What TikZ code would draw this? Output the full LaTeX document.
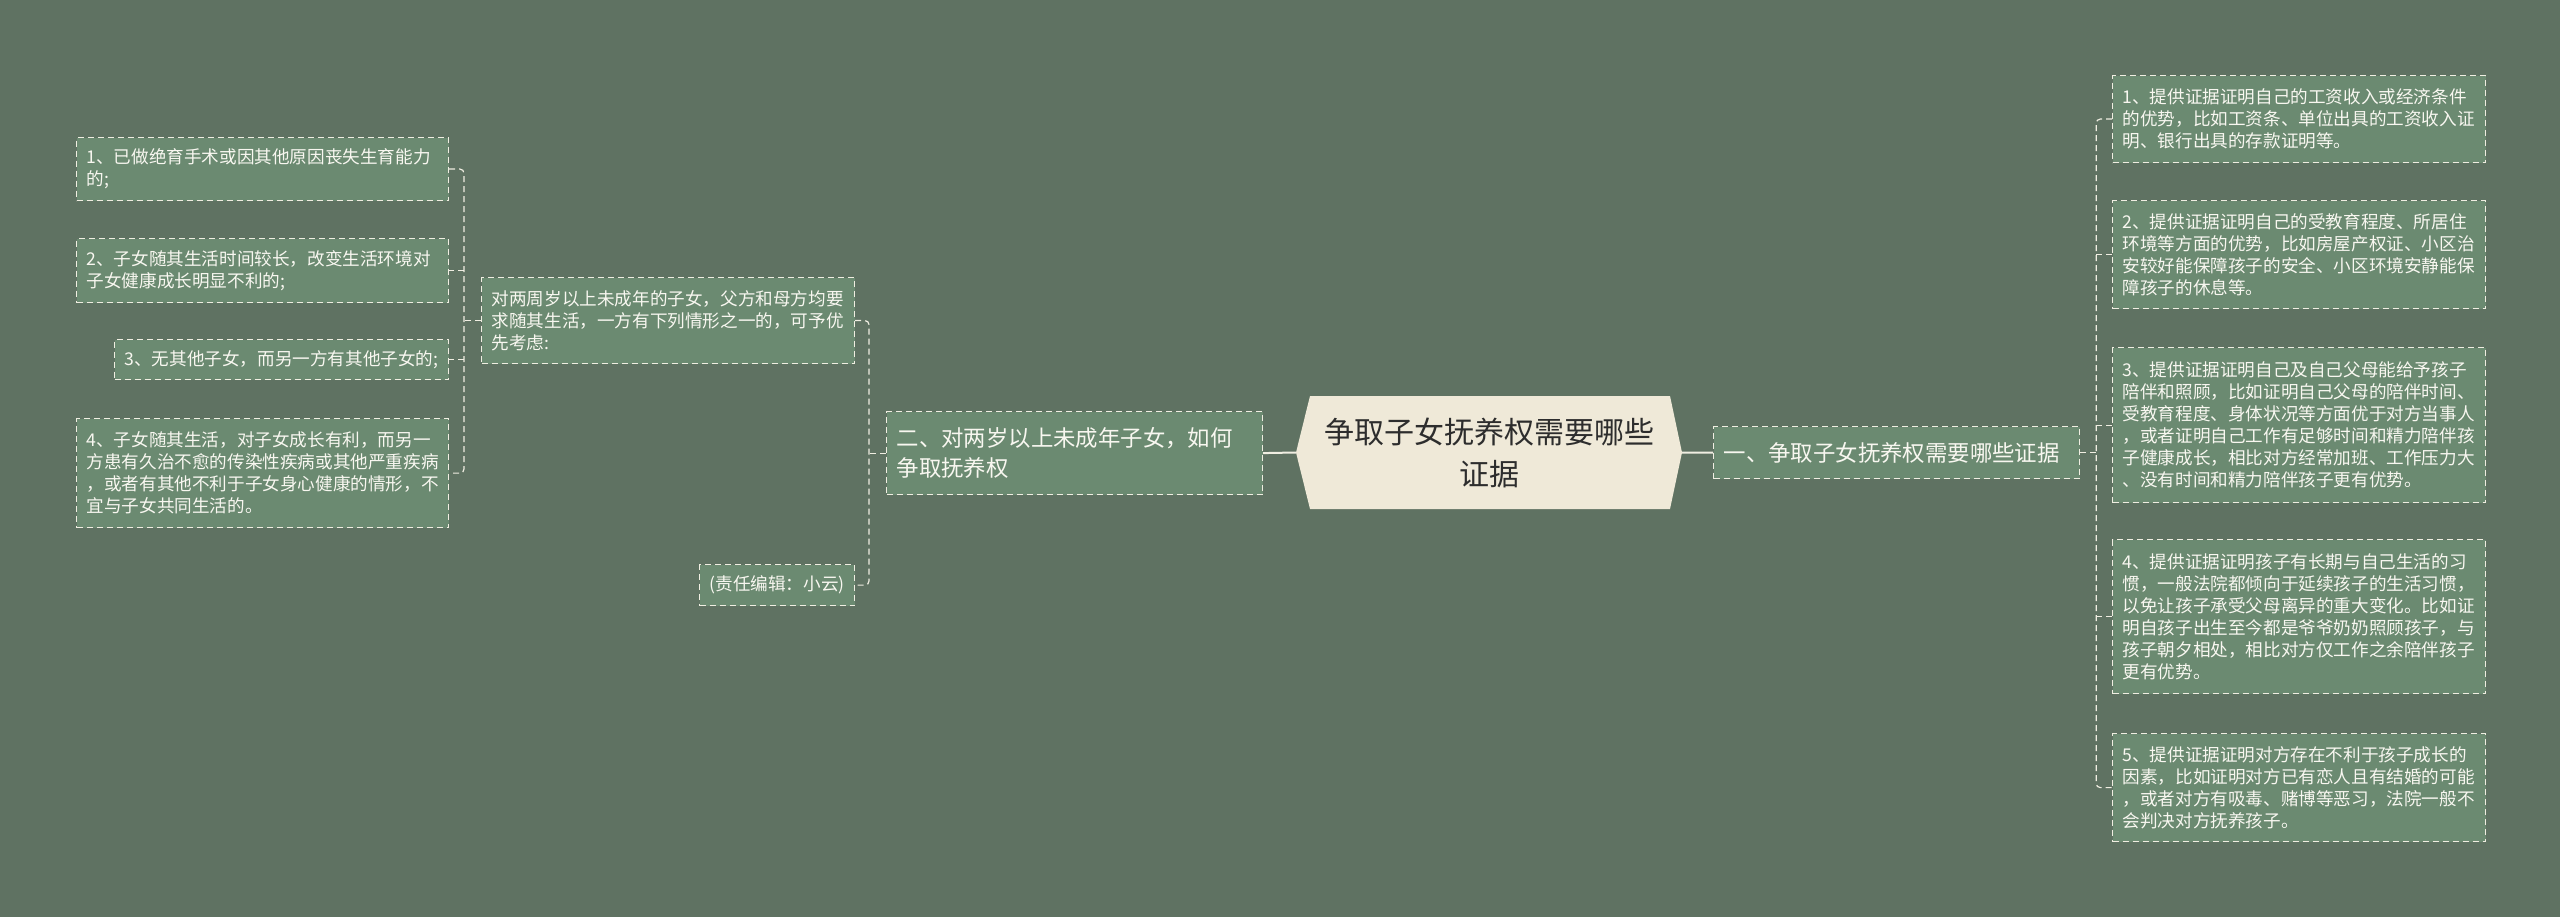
\documentclass[tikz,border=0pt]{standalone}
\usepackage{fontspec}
\setmainfont{Noto Sans CJK SC}
\usetikzlibrary{positioning}

\definecolor{bgc}{RGB}{95,114,98}
\definecolor{boxc}{RGB}{107,138,113}
\definecolor{linec}{RGB}{240,238,226}
\definecolor{leaftext}{RGB}{248,247,240}
\definecolor{hubfill}{RGB}{239,233,216}
\definecolor{hubtext}{RGB}{45,45,45}

\newcommand\leaffont{\fontsize{17.6}{22}\selectfont}
\newcommand\branchfont{\fontsize{22.4}{30}\selectfont}
\newcommand\hubfont{\fontsize{30}{42}\selectfont}

\begin{document}
\begin{tikzpicture}[x=1pt,y=-1pt,
  leaf/.style={draw=linec, line width=1.2pt, dash pattern=on 6pt off 4pt, fill=boxc,
    text=leaftext, font=\leaffont, align=left, inner xsep=10pt, inner ysep=0pt, anchor=north west},
  branch/.style={leaf, font=\branchfont},
  link/.style={draw=linec, line width=1.2pt, dash pattern=on 6pt off 4pt, rounded corners=4pt},
  trunk/.style={draw=linec, line width=2pt},
  hub/.style={minimum width=386pt, minimum height=113pt, inner sep=0pt, align=center,
    font=\hubfont, text=hubtext,
    path picture={\fill[hubfill] (path picture bounding box.west)
      -- ([xshift=14pt]path picture bounding box.north west)
      -- ([xshift=-12pt]path picture bounding box.north east)
      -- (path picture bounding box.east)
      -- ([xshift=-12pt]path picture bounding box.south east)
      -- ([xshift=14pt]path picture bounding box.south west) -- cycle;}}]
 	\fill[bgc] (0,0) rectangle (2560,917);

 	\node[hub] (hub) at (1489,452.5) {争取子女抚养权需要哪些\\证据};
 	\node[branch, text width=346pt, minimum height=52pt] (b1) at (1713,426) {一、争取子女抚养权需要哪些证据};
 	\node[branch, text width=356pt, minimum height=83pt] (b2) at (886,411) {二、对两岁以上未成年子女，如何\\争取抚养权};

 	\node[leaf, text width=353pt, minimum height=87pt] (r1) at (2112,75) {1、提供证据证明自己的工资收入或经济条件\\的优势，比如工资条、单位出具的工资收入证\\明、银行出具的存款证明等。};
 	\node[leaf, text width=353pt, minimum height=108pt] (r2) at (2112,200) {2、提供证据证明自己的受教育程度、所居住\\环境等方面的优势，比如房屋产权证、小区治\\安较好能保障孩子的安全、小区环境安静能保\\障孩子的休息等。};
 	\node[leaf, text width=353pt, minimum height=155pt] (r3) at (2112,347) {3、提供证据证明自己及自己父母能给予孩子\\陪伴和照顾，比如证明自己父母的陪伴时间、\\受教育程度、身体状况等方面优于对方当事人\\，或者证明自己工作有足够时间和精力陪伴孩\\子健康成长，相比对方经常加班、工作压力大\\、没有时间和精力陪伴孩子更有优势。};
 	\node[leaf, text width=353pt, minimum height=154pt] (r4) at (2112,539) {4、提供证据证明孩子有长期与自己生活的习\\惯，一般法院都倾向于延续孩子的生活习惯，\\以免让孩子承受父母离异的重大变化。比如证\\明自孩子出生至今都是爷爷奶奶照顾孩子，与\\孩子朝夕相处，相比对方仅工作之余陪伴孩子\\更有优势。};
 	\node[leaf, text width=353pt, minimum height=108pt] (r5) at (2112,733) {5、提供证据证明对方存在不利于孩子成长的\\因素，比如证明对方已有恋人且有结婚的可能\\，或者对方有吸毒、赌博等恶习，法院一般不\\会判决对方抚养孩子。};

 	\node[leaf, text width=353pt, minimum height=86pt] (m1) at (481,277) {对两周岁以上未成年的子女，父方和母方均要\\求随其生活，一方有下列情形之一的，可予优\\先考虑:};
 	\node[leaf, text width=135pt, minimum height=41pt] (m2) at (699,564) {(责任编辑：小云)};

 	\node[leaf, text width=352pt, minimum height=63pt] (l1) at (76,137) {1、已做绝育手术或因其他原因丧失生育能力\\的;};
 	\node[leaf, text width=352pt, minimum height=64pt] (l2) at (76,238) {2、子女随其生活时间较长，改变生活环境对\\子女健康成长明显不利的;};
 	\node[leaf, text width=314pt, minimum height=40pt] (l3) at (114,339) {3、无其他子女，而另一方有其他子女的;};
 	\node[leaf, text width=352pt, minimum height=109pt] (l4) at (76,418) {4、子女随其生活，对子女成长有利，而另一\\方患有久治不愈的传染性疾病或其他严重疾病\\，或者有其他不利于子女身心健康的情形，不\\宜与子女共同生活的。};

 	\coordinate[right=16pt of b1.east] (jr);
 	\coordinate[left=17pt of b2.west] (jm);
 	\coordinate[left=17pt of m1.west] (jl);

 	\draw[trunk] (hub.east) -- (b1.west);
 	\draw[trunk] (hub.west) -- (b2.east);

 	\draw[link] (b1.east) -- (jr);
 	\draw[link] (r1.west) -| (jr) |- (r5.west);
 	\foreach \n in {r2,r3,r4} \draw[link] (jr |- \n.west) -- (\n.west);

 	\draw[link] (b2.west) -- (jm);
 	\draw[link] (m1.east) -| (jm) |- (m2.east);

 	\draw[link] (m1.west) -- (jl);
 	\draw[link] (l1.east) -| (jl) |- (l4.east);
 	\foreach \n in {l2,l3} \draw[link] (jl |- \n.east) -- (\n.east);
\end{tikzpicture}
\end{document}
